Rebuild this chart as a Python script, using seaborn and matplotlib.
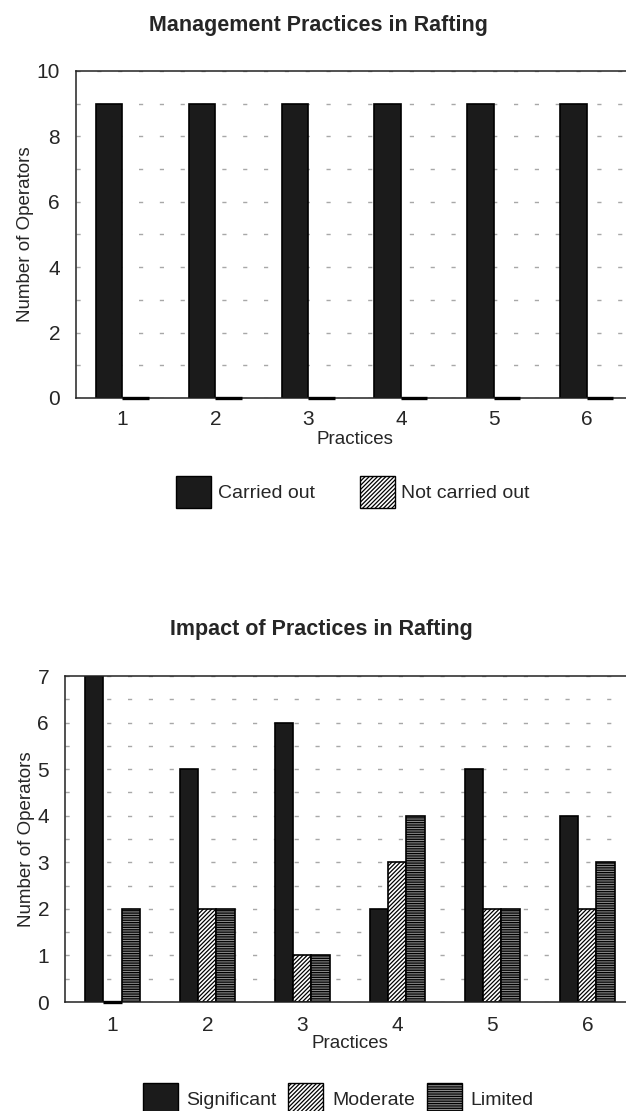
import pandas as pd
import seaborn as sns
import matplotlib.pyplot as plt
from matplotlib.patches import Patch

# Data
practices = ['1', '2', '3', '4', '5', '6']

mgmt_levels = ['Carried out', 'Not carried out']
carried_out = [9, 9, 9, 9, 9, 9]
not_carried_out = [0, 0, 0, 0, 0, 0]

impact_levels = ['Significant', 'Moderate', 'Limited']
significant = [7, 5, 6, 2, 5, 4]
moderate = [0, 2, 1, 3, 2, 2]
limited = [2, 2, 1, 4, 2, 3]

# Long format tables for seaborn
df_mgmt = pd.DataFrame({
  'practice': practices * 2,
  'level': [mgmt_levels[0]] * 6 + [mgmt_levels[1]] * 6,
  'operators': carried_out + not_carried_out
})
df_impact = pd.DataFrame({
  'practice': practices * 3,
  'level': [impact_levels[0]] * 6 + [impact_levels[1]] * 6 + [impact_levels[2]] * 6,
  'operators': significant + moderate + limited
})

# Fill / hatch for each level
fills = {
  'Carried out': ('#1b1b1b', None),
  'Not carried out': ('white', '////////'),
  'Significant': ('#1b1b1b', None),
  'Moderate': ('white', '////////'),
  'Limited': ('#8a8a8a', '-------'),
}

sns.set_style('white')
plt.rcParams['font.family'] = ['Liberation Sans', 'DejaVu Sans']
plt.rcParams['hatch.linewidth'] = 0.9


def draw_bars(ax, df, levels, ymax, step, label_x, tick_pad):
  sns.barplot(data=df, x='practice', y='operators', hue='level',
              order=practices, hue_order=levels,
              palette={lv: fills[lv][0] for lv in levels},
              width=0.57, saturation=1, edgecolor='black', linewidth=1.2,
              legend=False, ax=ax)
  for cont, lv in zip(ax.containers, levels):
    for bar in cont:
      bar.set_facecolor(fills[lv][0])
      if fills[lv][1]:
        bar.set_hatch(fills[lv][1])
      # empty bars show up as a heavy line on the axis
      if bar.get_height() == 0:
        bar.set_linewidth(2.4)
        bar.set_clip_on(False)
        bar.set_zorder(5)

  # x axis: ticks between groups, labels under groups
  ax.set_xlim(-0.5, len(practices) - 0.5)
  ax.set_xticks([i + 0.5 for i in range(len(practices) - 1)])
  ax.set_xticklabels([])
  ax.set_xticks(range(len(practices)), minor=True)
  ax.set_xticklabels(practices, minor=True)
  ax.tick_params(axis='x', which='major', direction='inout', length=8,
                 width=1, color='#222222')
  ax.tick_params(axis='x', which='minor', length=0, pad=tick_pad,
                 labelsize=15)

  # y axis
  ax.set_ylim(0, ymax)
  ax.set_yticks(range(0, ymax + 1, step))
  ax.set_yticks([i * 0.5 * step for i in range(2 * ymax // step + 1)],
                minor=True)
  ax.tick_params(axis='y', which='both', direction='inout', length=6,
                 width=1, color='#222222', pad=8.5, labelsize=15)
  ax.yaxis.grid(True, which='both', linestyle=(0, (3, 12)),
                color='#a8a8a8', linewidth=1)
  ax.xaxis.grid(False)
  ax.set_axisbelow(True)

  for side in ['left', 'top', 'right', 'bottom']:
    ax.spines[side].set_linewidth(1.1)
    ax.spines[side].set_color('#222222')

  ax.set_xlabel('Practices', fontsize=13.5)
  ax.set_ylabel('Number of Operators', fontsize=13.5)
  ax.xaxis.set_label_coords(0.5, -0.1)
  ax.yaxis.set_label_coords(label_x, 0.5)


def legend_handles(levels):
  return [Patch(facecolor=fills[lv][0], hatch=fills[lv][1],
                edgecolor='black', linewidth=1.0, label=lv) for lv in levels]


fig = plt.figure(figsize=(6.26, 11.11), dpi=100)

# Management practices chart
ax1 = fig.add_axes([0.1214, 0.6418, 0.8898, 0.2943])
draw_bars(ax1, df_mgmt, mgmt_levels, 10, 2, -0.076, 8.5)
fig.text(0.508, 1 - 25 / 1111, 'Management Practices in Rafting',
         ha='center', va='center', fontsize=15.5, fontweight='bold')
fig.legend(handles=legend_handles(mgmt_levels), loc='center',
           bbox_to_anchor=(0.564, 1 - 492 / 1111), ncol=2, frameon=False,
           fontsize=14, handlelength=1.8, handleheight=2.2,
           handletextpad=0.35, columnspacing=2.3, borderpad=0)

# Impact of practices chart
ax2 = fig.add_axes([0.1038, 0.0981, 0.9105, 0.2934])
draw_bars(ax2, df_impact, impact_levels, 7, 1, -0.052, 10)
fig.text(0.513, 1 - 629 / 1111, 'Impact of Practices in Rafting',
         ha='center', va='center', fontsize=15.5, fontweight='bold')
fig.legend(handles=legend_handles(impact_levels), loc='center',
           bbox_to_anchor=(0.54, 1 - 1099 / 1111), ncol=3, frameon=False,
           fontsize=14, handlelength=1.8, handleheight=2.2,
           handletextpad=0.45, columnspacing=0.6, borderpad=0)

fig.savefig('out.png', dpi=100)
